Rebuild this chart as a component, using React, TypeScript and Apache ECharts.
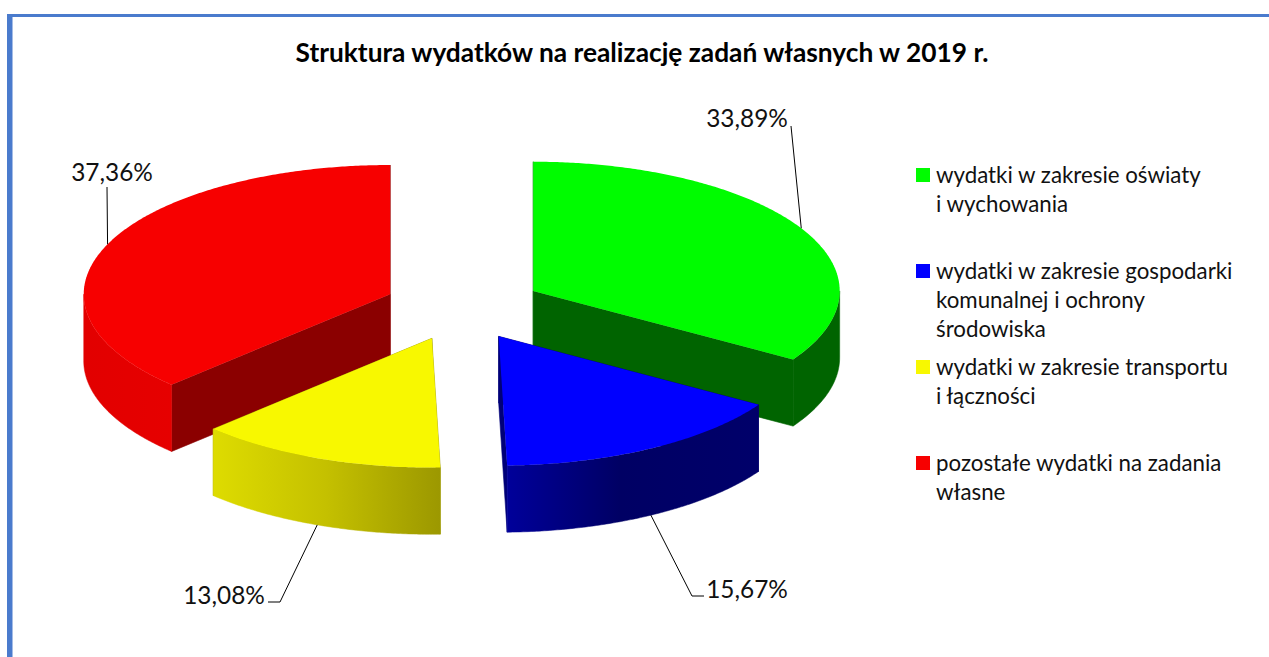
import React, { useEffect, useRef } from "react";
import * as echarts from "echarts";

const TITLE = "Struktura wydatków na realizację zadań własnych w 2019 r.";
const CATEGORIES = [
  "wydatki w zakresie oświaty\ni wychowania",
  "wydatki w zakresie gospodarki\nkomunalnej i ochrony\nśrodowiska",
  "wydatki w zakresie transportu\ni łączności",
  "pozostałe wydatki na zadania\nwłasne",
];
const SHARES = [33.89, 15.67, 13.08, 37.36];

const FONT = "Lato, 'Open Sans', sans-serif";
const PIE = { cx: 463.6, cy: 307.2, rx: 306.4, ry: 129.2, depth: 66.7, explode: 0.26 };
const STYLES = [
  { top: "#00fc00", wall: "#006400", rim: [[0, "#006400"], [1, "#006400"]], z: 2, nudge: 0 },
  { top: "#0000ff", wall: "#000078", rim: [[0, "#00009a"], [0.45, "#000064"], [1, "#00006a"]], z: 3, nudge: -4.5 },
  { top: "#f8f800", wall: "#a09c00", rim: [[0, "#dedc00"], [0.5, "#c4c000"], [1, "#9c9800"]], z: 3, nudge: -2 },
  { top: "#f70000", wall: "#8b0000", rim: [[0, "#e20000"], [1, "#e60000"]], z: 2, nudge: 0 },
];
const LABEL_BOX = [
  { x: 747, y: 117, via: [[791, 126]] },
  { x: 747, y: 588, via: [[692, 596], [704, 596]] },
  { x: 224, y: 594, via: [[280, 602], [268, 602]] },
  { x: 112, y: 171, via: [[107, 187]] },
];
const LEGEND = { x: 916, textX: 936, size: 14, firstY: 175, step: 96, lineHeight: 29, fontSize: 22.3 };

const formatShare = (v: number) => v.toFixed(2).replace(".", ",") + "%";

function sliceElements(index: number) {
  const total = SHARES.reduce((a, b) => a + b, 0);
  const before = SHARES.slice(0, index).reduce((a, b) => a + b, 0);
  const a0 = (before / total) * 360;
  const a1 = ((before + SHARES[index]) / total) * 360;
  const mid = (a0 + a1) / 2;
  const rad = (d: number) => (d * Math.PI) / 180;
  const { cx, cy, rx, ry, depth, explode } = PIE;
  const style = STYLES[index];
  const ox = cx + rx * explode * Math.sin(rad(mid)) + style.nudge;
  const oy = cy - ry * explode * Math.cos(rad(mid));
  const at = (d: number, dz = 0) => [ox + rx * Math.sin(rad(d)), oy - ry * Math.cos(rad(d)) + dz];
  const arc = (from: number, to: number, dz = 0) => {
    const pts: number[][] = [];
    const n = Math.max(2, Math.ceil(Math.abs(to - from) * 2));
    for (let i = 0; i <= n; i++) pts.push(at(from + ((to - from) * i) / n, dz));
    return pts;
  };
  const wall = (d: number) => ({
    type: "polygon",
    shape: { points: [[ox, oy], at(d), at(d, depth), [ox, oy + depth]] },
    style: { fill: style.wall, stroke: style.wall, lineWidth: 0.6 },
  });
  const children: any[] = [wall(a0), wall(a1)];
  const r0 = Math.max(a0, 90);
  const r1 = Math.min(a1, 270);
  if (r1 > r0) {
    const stops = style.rim.map(([offset, color]) => ({ offset, color }));
    const gradient = { type: "linear", x: 0, y: 0, x2: 1, y2: 0, global: false, colorStops: stops };
    children.push({
      type: "polygon",
      shape: { points: [...arc(r1, r0), ...arc(r0, r1, depth)] },
      style: { fill: gradient, stroke: gradient, lineWidth: 0.5 },
    });
  }
  children.push({
    type: "polygon",
    shape: { points: [[ox, oy], ...arc(a0, a1)] },
    style: { fill: style.top },
  });
  const visibleOnRim = mid > 90 && mid < 270;
  const box = LABEL_BOX[index];
  children.push({
    type: "polyline",
    shape: { points: [at(mid, visibleOnRim ? depth : 0), ...box.via] },
    style: { fill: "none", stroke: "#000", lineWidth: 1 },
  });
  children.push({
    type: "text",
    style: {
      text: formatShare(SHARES[index]),
      x: box.x,
      y: box.y,
      align: "center",
      verticalAlign: "middle",
      font: `24.4px ${FONT}`,
      fill: "#111",
    },
  });
  return { type: "group", children };
}

export default function App() {
  const ref = useRef<HTMLDivElement>(null);
  useEffect(() => {
    const chart = echarts.init(ref.current!, null, { renderer: "svg" });
    const legendGraphics: any[] = [];
    CATEGORIES.forEach((name, i) => {
      const y = LEGEND.firstY + i * LEGEND.step;
      legendGraphics.push({
        type: "rect",
        shape: { x: LEGEND.x, y: y - LEGEND.size / 2, width: LEGEND.size, height: LEGEND.size },
        style: { fill: STYLES[i].top },
      });
      legendGraphics.push({
        type: "text",
        x: LEGEND.textX,
        y: y - LEGEND.lineHeight / 2 - 1,
        style: {
          text: name,
          fill: "#111",
          font: `${LEGEND.fontSize}px ${FONT}`,
          lineHeight: LEGEND.lineHeight,
          verticalAlign: "top",
        },
      });
    });
    chart.setOption({
      animation: false,
      backgroundColor: "#ffffff",
      title: {
        text: TITLE,
        left: 637,
        top: 34,
        textAlign: "center",
        textStyle: { fontFamily: FONT, fontWeight: "bold", fontSize: 26.3, color: "#000" },
      },
      graphic: [
        { type: "rect", shape: { x: 7, y: 14, width: 1262, height: 3 }, style: { fill: "#4a7bcd" } },
        { type: "rect", shape: { x: 7, y: 14, width: 5.5, height: 643 }, style: { fill: "#4a7bcd" } },
        ...legendGraphics,
      ],
      series: CATEGORIES.map((name, i) => ({
        type: "custom",
        name,
        coordinateSystem: "none",
        silent: true,
        z: STYLES[i].z,
        data: [[SHARES[i]]],
        renderItem: () => sliceElements(i),
      })),
    });
    return () => chart.dispose();
  }, []);
  return <div ref={ref} style={{ position: "absolute", left: 0, top: 0, width: 1269, height: 657 }} />;
}
